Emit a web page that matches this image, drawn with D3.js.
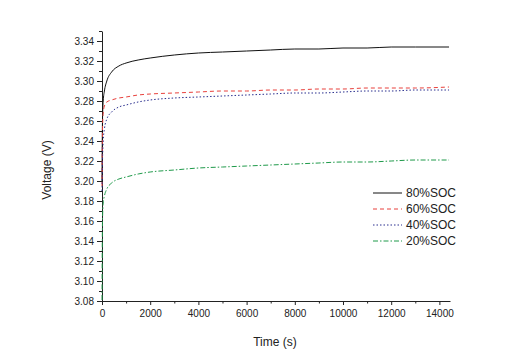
<!DOCTYPE html>
<html>
<head>
<meta charset="utf-8">
<script src="https://cdn.jsdelivr.net/npm/d3@7"></script>
<style>
  body { margin: 0; background: #fff; }
  text { font-family: "Liberation Sans", Arial, sans-serif; }
</style>
</head>
<body>
<script>
// ** Data
var times = [0, 20, 50, 100, 200, 400, 700, 1000, 1500, 2000, 3000, 4000, 5000, 6000,
             7000, 8000, 9000, 10000, 11000, 12000, 13000, 14400];
var soc80 = [3.200, 3.260, 3.280, 3.290, 3.300, 3.309, 3.315, 3.318, 3.321, 3.323, 3.326,
             3.328, 3.329, 3.330, 3.331, 3.332, 3.332, 3.333, 3.333, 3.334, 3.334, 3.334];
var soc60 = [3.195, 3.250, 3.268, 3.275, 3.279, 3.281, 3.283, 3.284, 3.286, 3.287, 3.288,
             3.289, 3.290, 3.290, 3.291, 3.291, 3.292, 3.292, 3.293, 3.293, 3.293, 3.294];
var soc40 = [3.190, 3.220, 3.240, 3.252, 3.262, 3.269, 3.274, 3.276, 3.279, 3.281, 3.283,
             3.284, 3.285, 3.286, 3.287, 3.288, 3.288, 3.289, 3.290, 3.290, 3.291, 3.291];
var soc20 = [3.081, 3.160, 3.178, 3.185, 3.192, 3.198, 3.202, 3.204, 3.207, 3.209, 3.211,
             3.213, 3.214, 3.215, 3.216, 3.217, 3.218, 3.219, 3.219, 3.220, 3.221, 3.221];
var seriesNames = ['80%SOC', '60%SOC', '40%SOC', '20%SOC'];
var xTicks = [0, 2000, 4000, 6000, 8000, 10000, 12000, 14000];
var yTicks = [3.08, 3.10, 3.12, 3.14, 3.16, 3.18, 3.20, 3.22, 3.24, 3.26, 3.28, 3.30, 3.32, 3.34];

var series = [
  {name: seriesNames[0], values: soc80, color: '#111111', dash: null},
  {name: seriesNames[1], values: soc60, color: '#e8413c', dash: '4,3'},
  {name: seriesNames[2], values: soc40, color: '#2a2f8f', dash: '1.5,2'},
  {name: seriesNames[3], values: soc20, color: '#1f9a4a', dash: '5,2,1.5,2'}
];

var svg = d3.select('body').append('svg')
            .attr('width', 508)
            .attr('height', 353);

var x = d3.scaleLinear().domain([0, 14440]).range([102, 450]);
var y = d3.scaleLinear().domain([3.08, 3.35]).range([301, 31]);

// ** Axes
var xAxis = svg.append('g').attr('transform', 'translate(0,301)')
   .call(d3.axisBottom(x).tickValues(xTicks).tickFormat(d3.format('d')).tickSize(4).tickSizeOuter(0));
svg.append('g').attr('transform', 'translate(0,301)')
   .call(d3.axisBottom(x).tickValues(d3.range(1000, 14001, 2000)).tickFormat('').tickSize(2.5).tickSizeOuter(0))
   .select('.domain').remove();

var yAxis = svg.append('g').attr('transform', 'translate(102,0)')
   .call(d3.axisLeft(y).tickValues(yTicks).tickFormat(d3.format('.2f')).tickSize(5).tickSizeOuter(0));
svg.append('g').attr('transform', 'translate(102,0)')
   .call(d3.axisLeft(y).tickValues(d3.range(3.09, 3.35, 0.02)).tickFormat('').tickSize(3).tickSizeOuter(0))
   .select('.domain').remove();

svg.selectAll('.tick text').attr('font-size', 10).attr('fill', '#222');
svg.selectAll('.domain, .tick line').attr('stroke', '#222');
xAxis.selectAll('.tick text').attr('dy', '0.9em');

// ** Axis titles
svg.append('text').attr('x', 275).attr('y', 346).attr('text-anchor', 'middle')
   .attr('font-size', 12).attr('fill', '#222').text('Time (s)');
svg.append('text').attr('transform', 'translate(51,170) rotate(-90)')
   .attr('text-anchor', 'middle').attr('font-size', 12).attr('fill', '#222').text('Voltage (V)');

// ** Lines
var line = d3.line()
  .x(function(d, i){ return x(times[i]); })
  .y(function(d){ return y(d); })
  .curve(d3.curveMonotoneX);

svg.selectAll('path.series').data(series).enter().append('path')
   .attr('class', 'series')
   .attr('fill', 'none')
   .attr('stroke', function(d){ return d.color; })
   .attr('stroke-width', 1)
   .attr('stroke-dasharray', function(d){ return d.dash; })
   .attr('d', function(d){ return line(d.values); });

// ** Legend
var legend = svg.selectAll('g.legend').data(series).enter().append('g')
   .attr('class', 'legend')
   .attr('transform', function(d, i){ return 'translate(373,' + (193 + i * 16) + ')'; });
legend.append('line').attr('x1', 0).attr('x2', 29)
   .attr('stroke', function(d){ return d.color; })
   .attr('stroke-width', 1)
   .attr('stroke-dasharray', function(d){ return d.dash; });
legend.append('text').attr('x', 33).attr('dy', '0.35em')
   .attr('font-size', 12).attr('fill', '#222')
   .text(function(d){ return d.name; });
</script>
</body>
</html>
